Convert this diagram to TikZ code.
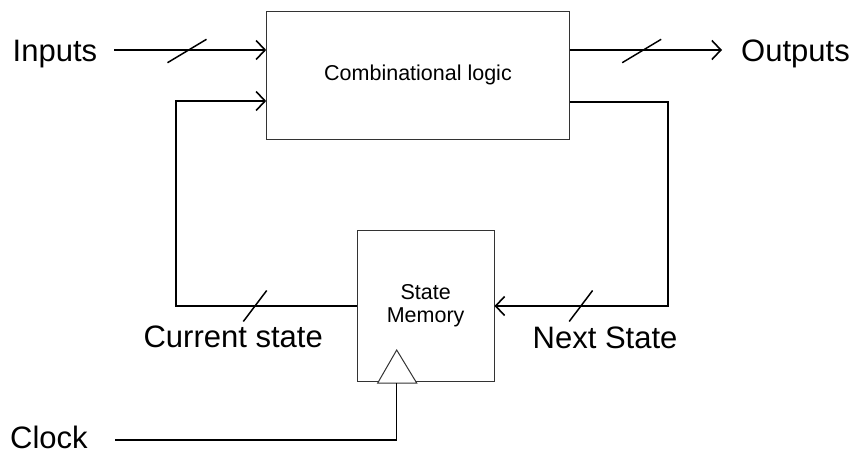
\documentclass[tikz,border=0pt]{standalone}
\usepackage{fontspec}
\setmainfont{Liberation Sans}
\usetikzlibrary{arrows.meta,calc}
\begin{document}
\begin{tikzpicture}[x=1pt,y=-1pt,
  box/.style={draw=black!80,line width=1pt,fill=white,inner sep=0pt},
  wire/.style={line width=1.8pt,black},
  arr/.style={wire,-{Straight Barb[length=9pt,width=19pt,line width=1.6pt]}},
  bus/.style={line width=1.5pt,black},
  big/.style={inner sep=0pt,font=\fontsize{31}{37}\selectfont},
  small/.style={align=center,font=\fontsize{21.5}{22.8}\selectfont}]
\useasboundingbox (0,0) rectangle (857,455);

% blocks
\node[box,small,minimum width=302.6pt,minimum height=128.3pt] (logic) at (418,75.2) {Combinational logic};
\node[box,small,minimum width=136.7pt,minimum height=151.6pt] (mem) at (425.65,306) {State\\Memory};
% clock input triangle on the memory block
\coordinate (clk) at (396.5,383);
\draw[box] (377.7,383) -- (396.7,350) -- (416.7,383) -- cycle;

% labels
\node[big,anchor=base west] (inputs) at (12.5,61.5) {Inputs};
\node[big,anchor=base west] (outputs) at (741,61) {Outputs};
\node[big,anchor=base west] (clock) at (10,448.5) {Clock};
\node[big,anchor=base east] (cur) at (323,347.5) {Current state};
\node[big,anchor=base west] (next) at (532.5,348) {Next State};

% free wire ends
\coordinate (inS) at (114,50);
\coordinate (outE) at (722,50);
\coordinate (clkS) at (115,440);

% connectors
\draw[arr] (inS) -- (inS -| logic.west);
\draw[arr] (outE -| logic.east) -- (outE);
\draw[arr] (mem.west) -| (175.7,101) -- (logic.west |- 0,101);
\draw[arr] (logic.east |- 0,102) -| (668.3,306) -- (mem.east);
\draw[wire] (clkS) -| (clk);

% bus width marks
\draw[bus] ($(187,51)+(-19.5,11.7)$) -- ++(39,-23.4);
\draw[bus] ($(641.7,51)+(-19.5,11.7)$) -- ++(39,-23.4);
\draw[bus] ($(255,306)+(-11.7,15.5)$) -- ++(23.4,-31);
\draw[bus] ($(580.9,306)+(-11.7,15.5)$) -- ++(23.4,-31);
\end{tikzpicture}
\end{document}
